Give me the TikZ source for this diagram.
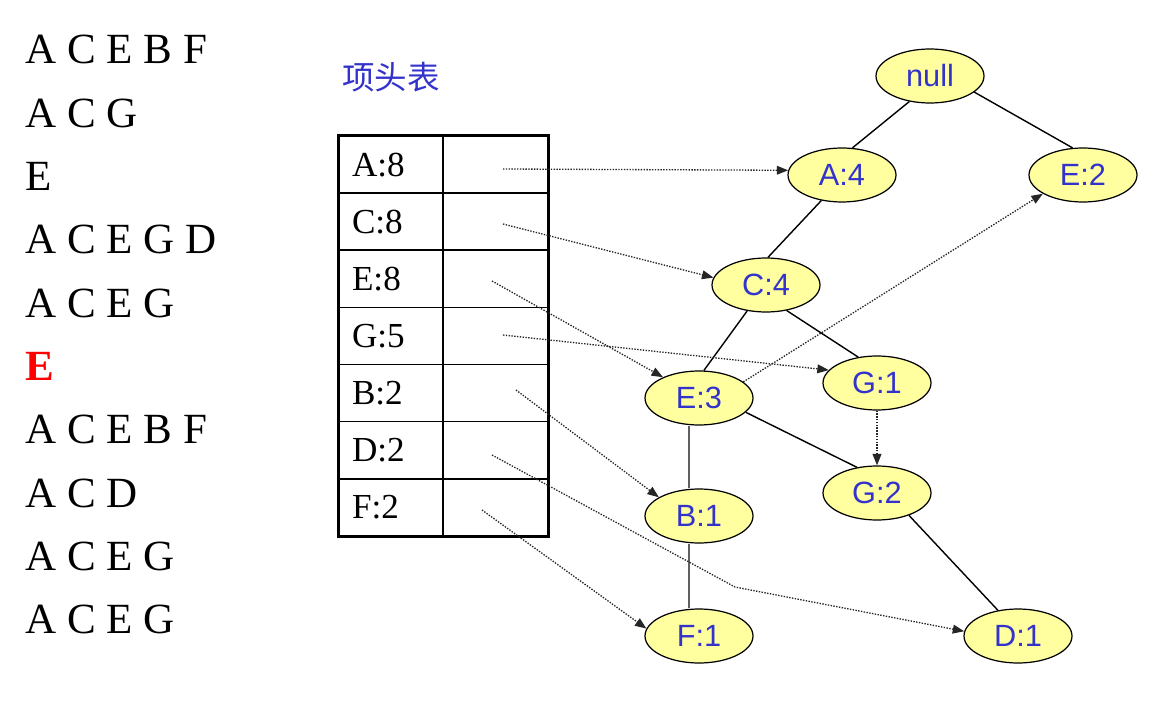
\documentclass[tikz,border=0pt]{standalone}
\usepackage{fontspec}
\usepackage{xcolor}
\usepackage{tikz}
\usetikzlibrary{arrows.meta,shapes.geometric,calc}
\setmainfont{Liberation Serif}
\newfontfamily\nodefont{Liberation Sans}
\newfontfamily\cjk{Noto Sans CJK SC}
\definecolor{azul}{RGB}{51,51,204}
\definecolor{amarillo}{RGB}{255,255,160}
\definecolor{rojo}{RGB}{255,0,0}

\begin{document}
\begin{tikzpicture}[x=0.02cm,y=-0.02cm,
fp/.style={ellipse,draw=black,line width=0.7pt,fill=amarillo,minimum width=2.16cm,minimum height=1.08cm,inner sep=0pt,text=azul,font=\nodefont\fontsize{17.5}{20}\selectfont},
trans/.style={anchor=base west,inner sep=0pt,font=\fontsize{24.5}{28}\selectfont},
hcell/.style={draw,line width=0.9pt,minimum width=2.08cm,minimum height=1.143cm,text width=1.56cm,inner xsep=0.26cm,align=left,font=\fontsize{20}{24}\selectfont},
pcell/.style={draw,line width=0.9pt,minimum width=2.1cm,minimum height=1.143cm,inner sep=0pt},
edge/.style={line width=0.8pt},
link/.style={-{Triangle[length=6.5pt,width=5pt]},line width=0.75pt,black!85,dash pattern=on 0.8pt off 0.8pt}
]
\useasboundingbox (0,0) rectangle (1160,706);

% transactions
\foreach \t [count=\i] in {A C E B F,A C G,E,A C E G D,A C E G,{},A C E B F,A C D,A C E G,A C E G}
  \node[trans] (t\i) at (25,{64+63.3*(\i-1)}) {\t};
\node[trans,text=rojo,font=\bfseries\fontsize{24.5}{28}\selectfont] (t6b) at (25,{64+63.3*5}) {E};

% header table
\node[text=azul,font=\cjk\fontsize{18.5}{22}\selectfont] (title) at (391,77) {项头表};
\foreach \k/\v [count=\i] in {A/8,C/8,E/8,G/5,B/2,D/2,F/2} {
  \node[hcell] (h\k) at (391,{136+57.14*(\i-0.5)}) {\k:\v};
  \node[pcell] (p\k) at (495.5,{136+57.14*(\i-0.5)}) {};
}
\draw[line width=1.7pt] (hA.north west) rectangle (pF.south east);
\foreach \k/\x/\y in {A/503/169,C/503/224,E/492/281,G/503/335,B/516/390,D/492/455,F/482/510}
  \coordinate (s\k) at (\x,\y);
\coordinate (bend) at (735,587);

% FP-tree
\node[fp] (null) at (930,76) {null};
\node[fp] (A4) at (842,175) {A:4};
\node[fp] (E2) at (1083,175) {E:2};
\node[fp] (C4) at (766,285) {C:4};
\node[fp] (E3) at (699,398) {E:3};
\node[fp] (G1) at (877,383) {G:1};
\node[fp] (G2) at (877,493) {G:2};
\node[fp] (B1) at (699,516) {B:1};
\node[fp] (F1) at (699,636) {F:1};
\node[fp] (D1) at (1018,636) {D:1};

\draw[edge] (null.231) -- (A4.69);
\draw[edge] (null.-20) -- (E2.111);
\draw[edge] (A4.231) -- (C4.86);
\draw[edge] (C4.234) -- (E3.80);
\draw[edge] (C4.-51) -- (G1.126);
\draw[edge] (E3.-17) -- (G2.128);
\draw[edge] (G2.-35) -- (D1.128);
\draw[edge,gray!75!black,line width=1.4pt] ([xshift=-5.7pt]E3.south) -- ([xshift=-5.7pt]B1.north);
\draw[edge,gray!75!black,line width=1.4pt] ([xshift=-5.7pt]B1.south) -- ([xshift=-5.7pt]F1.north);

% node-links
\draw[link] (sA) -- (A4.175);
\draw[link] (sC) -- (C4.172);
\draw[link] (sE) -- (E3.150);
\draw[link] (sG) -- (G1.165);
\draw[link] (sB) -- (B1.155);
\draw[link] (sD) -- (bend) -- (D1.175);
\draw[link] (sF) -- (F1.172);
\draw[link] (E3.20) -- (E2.205);
\draw[link] (G1.south) -- (G2.north);
\end{tikzpicture}
\end{document}
